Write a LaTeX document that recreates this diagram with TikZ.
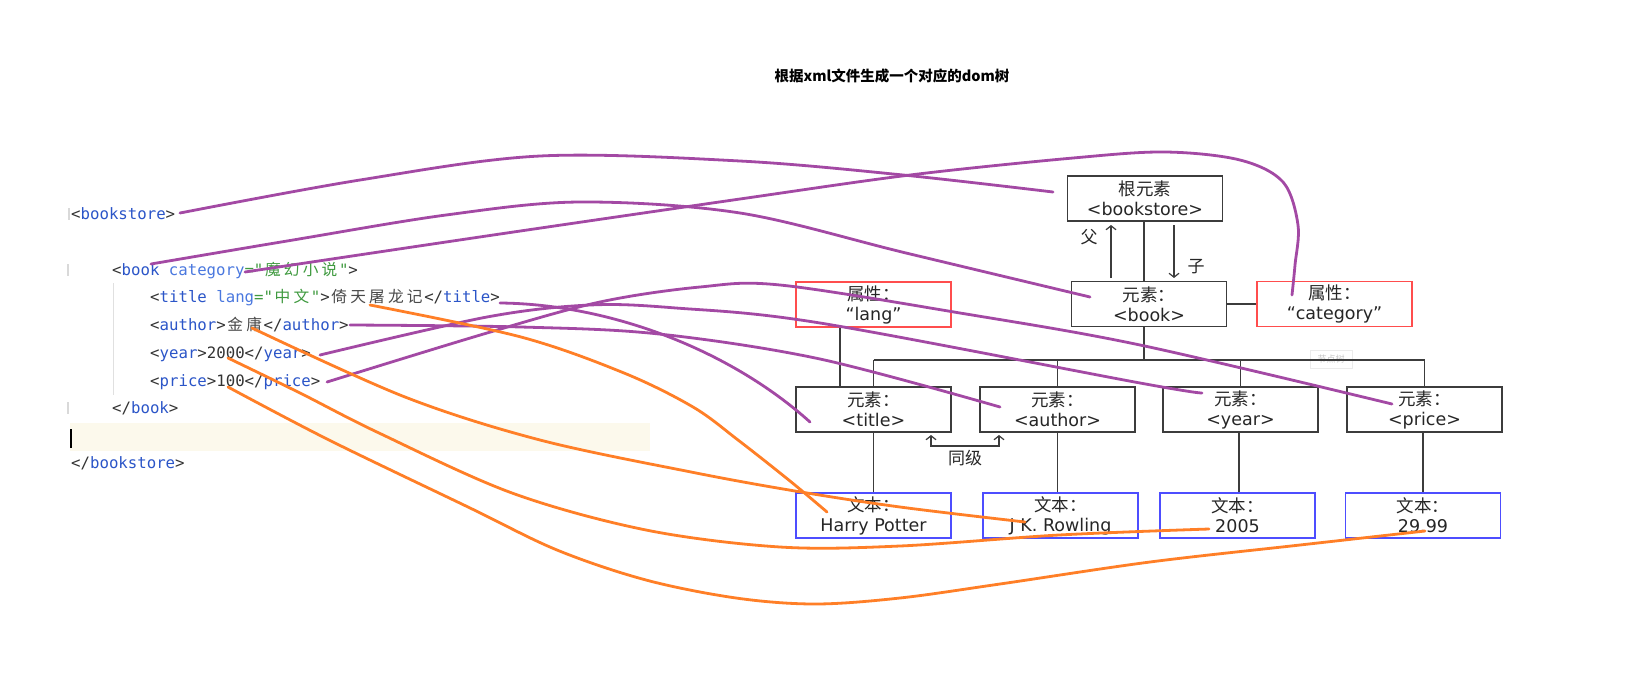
\documentclass[tikz,border=0pt]{standalone}
\usepackage{fontspec}
\setmainfont{DejaVu Sans}
\setmonofont{DejaVu Sans Mono}
\newfontfamily\cjk{Noto Sans CJK SC}
\usetikzlibrary{arrows.meta}
\definecolor{pur}{HTML}{A349A4}
\definecolor{ora}{HTML}{FF7F27}
\definecolor{tagc}{HTML}{2B55C8}
\definecolor{atc}{HTML}{4A78DF}
\definecolor{valc}{HTML}{3F9A3F}
\definecolor{brc}{HTML}{333333}
\definecolor{txc}{HTML}{4A4A4A}
\definecolor{bandc}{HTML}{FCF9EC}
\definecolor{boxr}{HTML}{FF4D4D}
\definecolor{boxb}{HTML}{4D4DFF}
\definecolor{lnc}{HTML}{3C3C3C}
\newcommand\Tg[1]{\textcolor{tagc}{#1}}
\newcommand\At[1]{\textcolor{atc}{#1}}
\newcommand\Vl[1]{\textcolor{valc}{#1}}
\newcommand\Tx[1]{\textcolor{txc}{#1}}
\newcommand\Cc[1]{\makebox[18.9pt]{\cjk #1}}
\tikzset{
  code/.style={anchor=base west, inner sep=0pt, text=brc, font=\ttfamily\fontsize{15.7}{18}\selectfont},
  el/.style={draw=lnc, line width=1.4pt, minimum width=155pt, minimum height=45pt, inner sep=0pt, align=center, text=black!85, font=\fontsize{17.5}{20}\selectfont},
  atb/.style={el, draw=boxr},
  txb/.style={el, draw=boxb},
  tl/.style={draw=lnc, line width=1.4pt},
  barb/.style={tl, line width=1.2pt},
  cjkl/.style={inner sep=0pt, text=black!85, font=\cjk\fontsize{17}{18}\selectfont},
  purc/.style={draw=pur, line width=2.8pt, line cap=round, line join=round},
  orac/.style={draw=ora, line width=2.8pt, line cap=round, line join=round},
}
\begin{document}
\begin{tikzpicture}[x=1pt, y=-1pt]
\path[use as bounding box, fill=white] (0,0) rectangle (1627,683);

% title
\node[font=\cjk\bfseries\fontsize{14.5}{16}\selectfont] (ttl) at (892,76) {根据xml文件生成一个对应的dom树};

% editor decorations
\fill[bandc] (70,423) rectangle (650,451);
\draw[black!12, line width=1pt] (113,283) -- (113,395);
\draw[black!15, line width=2pt] (69,208) -- (69,220);
\draw[black!15, line width=2pt] (68,264) -- (68,276);
\draw[black!15, line width=2pt] (68,402) -- (68,414);
\draw[black, line width=2pt] (71,429) -- (71,448);

% code lines
\node[code] (l1) at (71,219) {<\Tg{bookstore}>};
\node[code] (l2) at (112,275) {<\Tg{book} \At{category}\Vl{="\Cc{魔}\Cc{幻}\Cc{小}\Cc{说}"}>};
\node[code] (l3) at (150,302) {<\Tg{title} \At{lang}\Vl{="\Cc{中}\Cc{文}"}>\Tx{\Cc{倚}\Cc{天}\Cc{屠}\Cc{龙}\Cc{记}}</\Tg{title}>};
\node[code] (l4) at (150,330) {<\Tg{author}>\Tx{\Cc{金}\Cc{庸}}</\Tg{author}>};
\node[code] (l5) at (150,358) {<\Tg{year}>2000</\Tg{year}>};
\node[code] (l6) at (150,386) {<\Tg{price}>100</\Tg{price}>};
\node[code] (l7) at (112,413) {</\Tg{book}>};
\node[code] (l8) at (71,468) {</\Tg{bookstore}>};

% tree nodes
\node[el] (root) at (1145,198.5) {{\cjk 根元素}\\<bookstore>};
\node[el] (book) at (1149,304) {{\cjk 元素：}\\<book>};
\node[atb] (cat) at (1334.5,304) {{\cjk 属性：}\\“category”};
\node[atb] (lang) at (873.5,304.5) {{\cjk 属性：}\\“lang”};
\node[el] (title) at (873.5,409.5) {{\cjk 元素：}\\<title>};
\node[el] (author) at (1057.5,409.5) {{\cjk 元素：}\\<author>};
\node[el] (year) at (1240.5,409.5) {{\cjk 元素：}\\<year>};
\node[el] (price) at (1424.5,409.5) {{\cjk 元素：}\\<price>};
\node[txb] (hp) at (873.5,515.5) {{\cjk 文本：}\\Harry Potter};
\node[txb] (jk) at (1060.5,515.5) {{\cjk 文本：}\\J K. Rowling};
\node[txb] (y5) at (1237.5,515.5) {{\cjk 文本：}\\2005};
\node[txb] (p9) at (1423,515.5) {{\cjk 文本：}\\29.99};

\node[draw=black!8, fill=white, text=black!22, font=\cjk\fontsize{9}{9}\selectfont, minimum width=42pt, minimum height=18pt, inner sep=0pt] (wm) at (1331,359) {节点树};

% tree lines
\coordinate (busy) at (1144,360);
\coordinate (lx) at (840,0);
\draw[tl] (root.south -| busy) -- (book.north -| busy);
\draw[tl] (book.south -| busy) -- (busy);
\draw[tl] (book.east) -- (cat.west);
\draw[tl] (title.north |- busy) -- (price.north |- busy);
\draw[tl] (title.north |- busy) -- (title.north);
\draw[tl] (author.north |- busy) -- (author.north);
\draw[tl] (year.north |- busy) -- (year.north);
\draw[tl] (price.north |- busy) -- (price.north);
\draw[tl] (lang.south -| lx) -- (title.north -| lx);
\draw[tl] (title.south) -- (hp.north);
\draw[tl] (author.south) -- (author.south |- jk.north);
\draw[tl] (y5.north -| 1239,0) -- (year.south -| 1239,0);
\draw[tl] (price.south -| p9) -- (p9.north);

% parent / child / sibling arrows
\coordinate (fb) at (1111,278); \coordinate (ft) at (1111,225);
\coordinate (zt) at (1174,225); \coordinate (zb) at (1174,278);
\draw[barb, -{Straight Barb[length=4pt,width=10pt]}] (fb) -- (ft);
\draw[barb, -{Straight Barb[length=4pt,width=10pt]}] (zt) -- (zb);
\node[cjkl] (fu) at (1089,237) {父};
\node[cjkl] (zi) at (1196,267) {子};
\coordinate (sl) at (931,435); \coordinate (sr) at (999,435);
\draw[barb, {Straight Barb[length=4pt,width=10pt]}-{Straight Barb[length=4pt,width=10pt]}] (sl) -- ++(0,11) -| (sr);
\node[cjkl] (tj) at (965,458) {同级};

% purple curves
\coordinate (s1) at (180,213);  \coordinate (e1) at (1053,192);
\coordinate (s2) at (151,264);  \coordinate (e2) at (1090,297);
\coordinate (s3) at (245,272);  \coordinate (e3) at (1292,295);
\coordinate (s4) at (500,303);  \coordinate (e4) at (810,422);
\coordinate (s5) at (350,325);  \coordinate (e5) at (1000,407);
\coordinate (s6) at (320,355);  \coordinate (e6) at (1202,393);
\coordinate (s7) at (327,382);  \coordinate (e7) at (1392,404);
\draw[purc] plot[smooth, tension=0.55] coordinates {(s1) (360,180) (540,156) (740,161) (903,175) (e1)};
\draw[purc] plot[smooth, tension=0.55] coordinates {(s2) (293,240) (446,215) (580,202) (740,213) (906,253) (e2)};
\draw[purc] plot[smooth, tension=0.55] coordinates {(s3) (500,234) (740,199) (910,175) (1073,158) (1165,152) (1240,160) (1283,182) (1298,225) (1295,265) (e3)};
\draw[purc] (s4) .. controls (610,304) and (730,350) .. (e4);
\draw[purc] plot[smooth, tension=0.55] coordinates {(s5) (521,327) (659,334) (820,359) (e5)};
\draw[purc] plot[smooth, tension=0.55] coordinates {(s6) (487,317) (590,305) (676,308) (820,323) (1140,383) (e6)};
\draw[purc] plot[smooth, tension=0.55] coordinates {(s7) (487,333) (600,302) (700,287) (780,285) (960,313) (1140,345) (e7)};

% orange curves
\coordinate (o1s) at (370,305);  \coordinate (o1e) at (827,512);
\coordinate (o2s) at (252,328);  \coordinate (o2e) at (1025,522);
\coordinate (o3s) at (228,358);  \coordinate (o3e) at (1209,529);
\coordinate (o4s) at (228,387);  \coordinate (o4e) at (1425,531);
\draw[orac] plot[smooth, tension=0.55] coordinates {(o1s) (521,337) (624,373) (693,407) (738,440) (790,481) (o1e)};
\draw[orac] plot[smooth, tension=0.55] coordinates {(o2s) (405,397) (540,440) (691,472) (795,491) (900,507) (o2e)};
\draw[orac] plot[smooth, tension=0.55] coordinates {(o3s) (300,393) (379,433) (512,493) (646,530) (780,547) (900,546) (1059,535) (o3e)};
\draw[orac] plot[smooth, tension=0.55] coordinates {(o4s) (329,440) (468,507) (557,550) (646,580) (736,598) (815,604) (900,598) (1000,584) (1150,562) (1300,545) (o4e)};
\end{tikzpicture}
\end{document}
